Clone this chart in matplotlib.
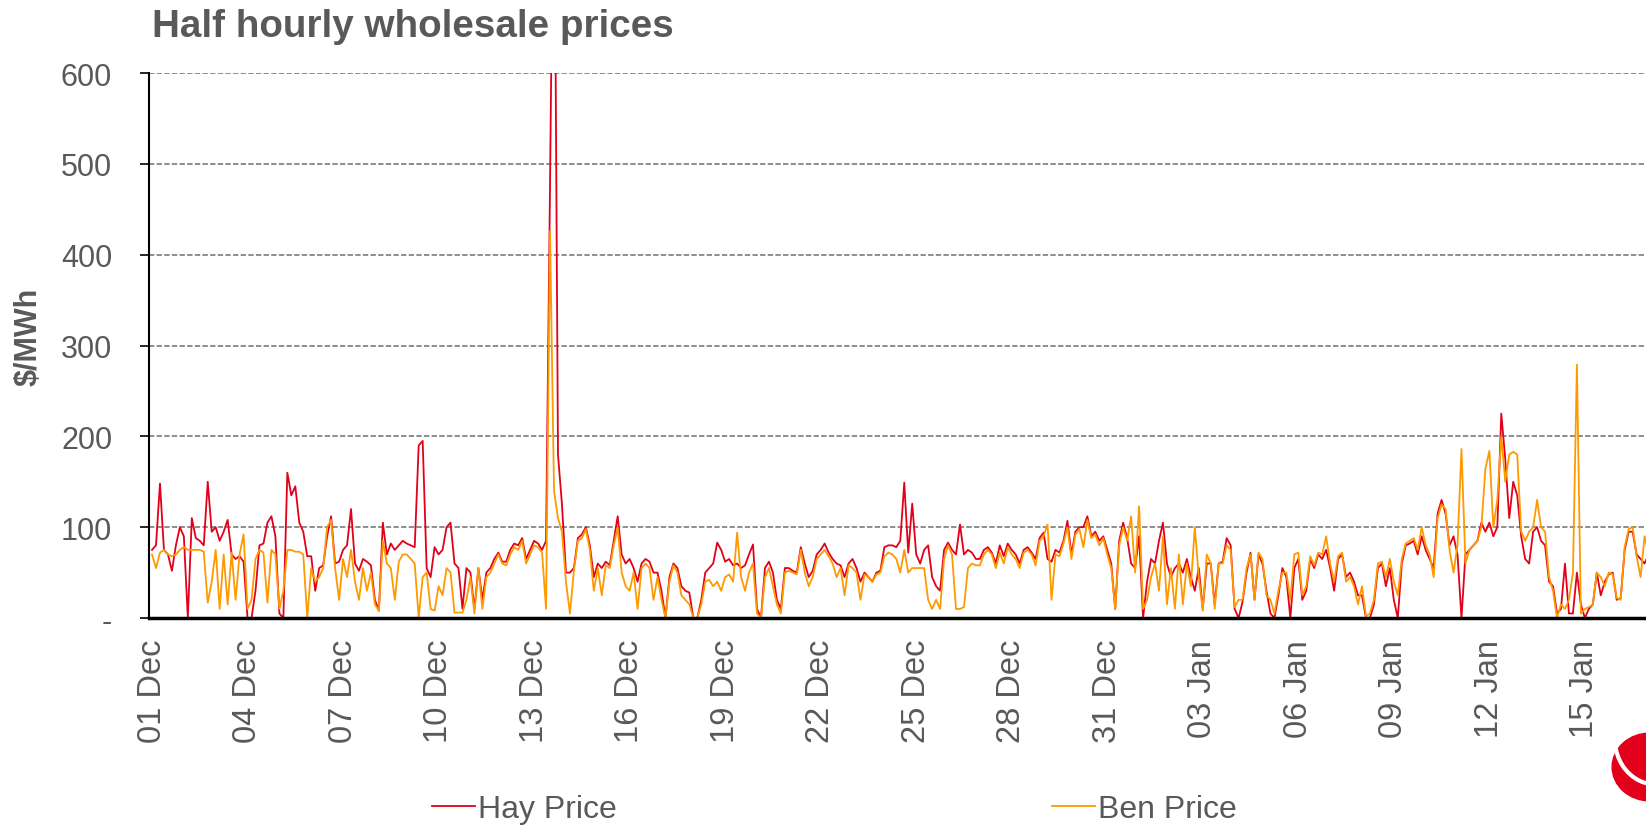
import matplotlib
matplotlib.use('Agg')
import matplotlib.pyplot as plt
import matplotlib.dates as mdates
from matplotlib.patches import Ellipse, Arc
import pandas as pd

FONT = ['Liberation Sans', 'DejaVu Sans']
GREY = '#595959'
HAY_COLOR = '#E2001A'
BEN_COLOR = '#FF9900'

START = '2019-12-01'
STEP = '3h'  # one value every three hours

# Hay price, $/MWh, one row per day (00h, 03h, ... 21h)
hay = [
    75, 80, 148, 75, 70, 52, 80, 100,
    90, 0, 110, 88, 85, 80, 150, 95,
    100, 85, 95, 108, 70, 65, 68, 62,
    0, 0, 30, 80, 82, 105, 112, 90,
    5, 0, 160, 135, 145, 105, 95, 68,
    68, 30, 55, 58, 90, 112, 60, 62,
    75, 80, 120, 60, 52, 65, 62, 58,
    20, 8, 105, 70, 82, 75, 80, 85,
    82, 80, 78, 190, 195, 55, 45, 78,
    70, 75, 100, 105, 60, 55, 10, 55,
    50, 10, 55, 20, 50, 55, 65, 72,
    62, 62, 75, 82, 80, 88, 65, 75,
    85, 82, 75, 85, 477, 900, 180, 125,
    50, 50, 55, 88, 92, 100, 80, 45,
    60, 55, 62, 58, 85, 112, 70, 60,
    65, 55, 40, 60, 65, 62, 50, 50,
    30, 0, 45, 60, 55, 35, 30, 28,
    0, 0, 20, 50, 55, 60, 83, 75,
    62, 65, 58, 60, 55, 58, 70, 81,
    10, 0, 55, 62, 50, 20, 10, 55,
    55, 52, 50, 78, 60, 45, 52, 70,
    75, 82, 72, 65, 60, 58, 45, 60,
    65, 55, 40, 50, 45, 40, 50, 52,
    78, 80, 80, 78, 85, 149, 72, 126,
    70, 60, 75, 80, 45, 35, 30, 75,
    83, 75, 70, 103, 70, 75, 72, 65,
    65, 75, 78, 72, 60, 80, 68, 82,
    75, 70, 60, 75, 78, 72, 65, 88,
    94, 65, 62, 75, 72, 85, 107, 70,
    95, 100, 100, 112, 90, 95, 85, 90,
    75, 60, 10, 85, 105, 88, 60, 55,
    90, 0, 40, 65, 60, 85, 105, 60,
    45, 55, 60, 50, 65, 45, 30, 55,
    10, 60, 60, 15, 60, 62, 88, 80,
    10, 0, 18, 50, 72, 20, 70, 60,
    30, 5, 0, 25, 55, 45, 0, 55,
    65, 20, 30, 65, 55, 70, 65, 75,
    55, 30, 65, 70, 45, 50, 40, 25,
    25, 0, 0, 15, 55, 60, 35, 55,
    20, 0, 60, 80, 82, 85, 70, 90,
    75, 65, 55, 115, 130, 115, 80, 90,
    70, 0, 70, 75, 80, 85, 105, 95,
    105, 90, 100, 225, 175, 110, 150, 135,
    90, 65, 60, 95, 100, 85, 80, 40,
    35, 5, 10, 60, 5, 5, 50, 15,
    0, 10, 15, 50, 25, 40, 48, 50,
    20, 22, 75, 95, 95, 70, 65, 60,
    70,
]

# Ben price, $/MWh
ben = [
    70, 55, 72, 75, 70, 68, 70, 75,
    78, 75, 75, 75, 75, 73, 17, 40,
    75, 10, 70, 15, 72, 20, 70, 92,
    10, 20, 65, 75, 72, 17, 75, 70,
    10, 30, 75, 75, 73, 73, 70, 0,
    55, 40, 45, 55, 100, 108, 55, 20,
    65, 45, 75, 40, 20, 55, 30, 50,
    15, 8, 85, 60, 55, 20, 62, 70,
    70, 65, 60, 0, 45, 50, 10, 8,
    35, 25, 55, 50, 6, 6, 6, 20,
    45, 5, 55, 10, 45, 50, 60, 70,
    60, 58, 70, 78, 75, 85, 60, 70,
    80, 78, 72, 10, 426, 140, 110, 95,
    40, 5, 52, 85, 88, 98, 75, 30,
    55, 25, 58, 55, 80, 100, 50, 35,
    30, 50, 10, 55, 60, 55, 20, 45,
    20, 0, 40, 58, 50, 25, 20, 15,
    0, 0, 15, 40, 42, 35, 40, 30,
    45, 48, 40, 94, 45, 30, 50, 60,
    5, 0, 45, 55, 35, 15, 5, 50,
    52, 50, 48, 75, 50, 35, 45, 65,
    70, 75, 68, 60, 45, 55, 25, 58,
    55, 50, 20, 48, 45, 40, 48, 50,
    68, 72, 70, 65, 50, 75, 50, 55,
    55, 55, 55, 20, 10, 20, 10, 65,
    80, 70, 10, 10, 12, 55, 60, 58,
    58, 70, 75, 70, 55, 72, 60, 78,
    70, 65, 55, 72, 75, 70, 58, 85,
    90, 103, 20, 70, 68, 82, 100, 65,
    92, 98, 78, 108, 88, 92, 80, 88,
    70, 55, 10, 80, 100, 85, 112, 50,
    123, 10, 20, 45, 60, 30, 90, 15,
    55, 10, 70, 15, 60, 35, 100, 45,
    8, 70, 60, 10, 60, 60, 80, 75,
    12, 20, 20, 55, 70, 20, 72, 65,
    25, 20, 5, 30, 50, 50, 20, 70,
    72, 25, 35, 68, 58, 72, 70, 90,
    60, 40, 68, 72, 40, 45, 35, 15,
    35, 2, 5, 20, 60, 62, 45, 65,
    40, 25, 65, 82, 85, 88, 75, 100,
    80, 70, 45, 110, 125, 120, 75, 50,
    80, 186, 60, 75, 80, 85, 100, 164,
    184, 100, 130, 200, 150, 180, 183, 180,
    95, 85, 95, 100, 130, 100, 95, 45,
    30, 0, 15, 10, 20, 50, 279, 5,
    10, 12, 15, 50, 45, 35, 50, 48,
    22, 20, 78, 98, 100, 68, 45, 90,
    70,
]

Y_TICKS = [0, 100, 200, 300, 400, 500, 600]
Y_LABELS = ['-', '100', '200', '300', '400', '500', '600']
N_XTICKS = 16  # every third day from 01 Dec


def do_plot():
    times = pd.date_range(START, periods=len(hay), freq=STEP)
    t0 = pd.Timestamp(START)

    fig = plt.figure(figsize=(16.46, 8.28), dpi=100)
    # plot area runs off the right edge of the picture, as in the original
    ax = fig.add_axes([0.0905, 0.2524, 0.9095, 0.6582])

    l1, = ax.plot(times, hay, color=HAY_COLOR, lw=1.3, zorder=3)
    l2, = ax.plot(times, ben, color=BEN_COLOR, lw=1.3, zorder=4)

    ax.set_xlim(t0 - pd.Timedelta(hours=2.3), t0 + pd.Timedelta(days=46.92))
    ax.set_ylim(0, 600)

    ax.set_yticks(Y_TICKS)
    ax.set_yticklabels(Y_LABELS)
    ax.yaxis.grid(True, linestyle=(0, (3.5, 1.5)), color='#6f6f6f', lw=1.1)
    ax.set_axisbelow(True)

    ax.set_xticks(pd.date_range(START, periods=N_XTICKS, freq='3D'))
    ax.xaxis.set_major_formatter(mdates.DateFormatter('%d %b'))

    ax.tick_params(axis='y', direction='out', length=6.5, width=1.2,
                   pad=20, labelsize=22, labelcolor=GREY)
    ax.tick_params(axis='x', length=0, pad=15, labelsize=23.5,
                   labelcolor=GREY, labelrotation=90)
    for lab in ax.get_xticklabels() + ax.get_yticklabels():
        lab.set_family(FONT)

    for side in ('top', 'right'):
        ax.spines[side].set_visible(False)
    ax.spines['left'].set_linewidth(1.5)
    ax.spines['bottom'].set_linewidth(2.5)
    ax.spines['bottom'].set_zorder(5)

    fig.text(152 / 1646, 1 - 27 / 828, 'Half hourly wholesale prices',
             family=FONT, fontsize=27.8, fontweight='bold', color=GREY,
             ha='left', va='center')
    fig.text(29 / 1646, 1 - 337 / 828, '\\$/MWh', family=FONT, fontsize=22,
             fontweight='bold', color=GREY, rotation=90,
             ha='center', va='center')

    leg = fig.legend([l1, l2], ['Hay Price', 'Ben Price'], ncol=2,
                     loc='center left', bbox_to_anchor=(432 / 1646, 1 - 810 / 828),
                     frameon=False, borderpad=0, borderaxespad=0,
                     handlelength=1.35, handletextpad=0.1, columnspacing=13.6,
                     prop={'family': FONT, 'size': 23})
    for txt in leg.get_texts():
        txt.set_color(GREY)

    # company logo, cut off by the bottom right corner
    fig.patches.append(Ellipse((1650 / 1646, 1 - 768 / 828), 0.046, 0.082,
                               transform=fig.transFigure, color=HAY_COLOR))
    fig.patches.append(Arc((1656 / 1646, 1 - 740 / 828), 0.05, 0.11,
                           theta1=190, theta2=290, transform=fig.transFigure,
                           color='white', lw=3))

    fig.savefig('out.png', dpi=100)


if __name__ == '__main__':
    do_plot()
